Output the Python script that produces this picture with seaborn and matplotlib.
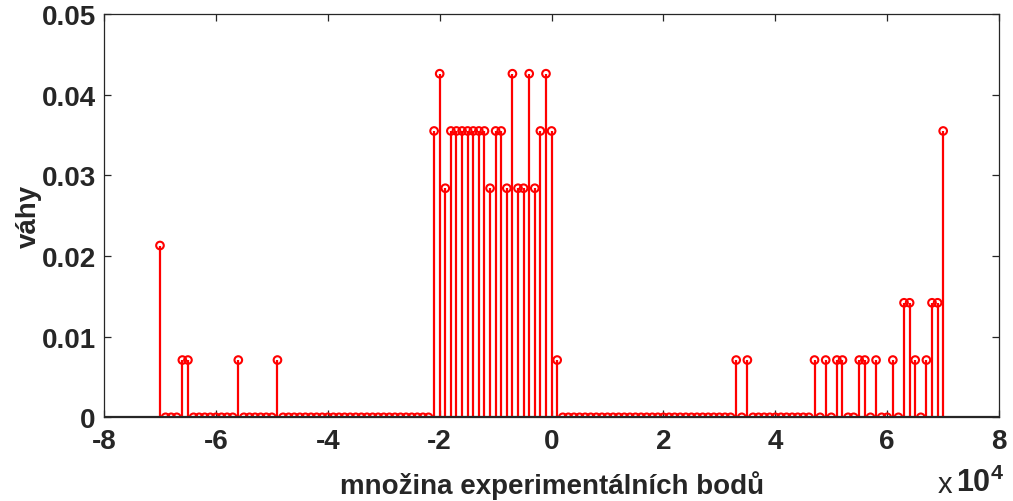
import matplotlib
matplotlib.use("Agg")
import matplotlib.pyplot as plt
import seaborn as sns
import numpy as np
from matplotlib.ticker import FixedLocator, FuncFormatter

# experimental points (x positions, regular grid of the experiment)
x_points = list(range(-70000, 70001, 1000))

weights = [
    0.0213, 0, 0, 0, 0.0071, 0.0071, 0, 0, 0, 0,            # -70 .. -61 (x1000)
    0, 0, 0, 0, 0.0071, 0, 0, 0, 0, 0,                      # -60 .. -51
    0, 0.0071, 0, 0, 0, 0, 0, 0, 0, 0,                      # -50 .. -41
    0, 0, 0, 0, 0, 0, 0, 0, 0, 0,                           # -40 .. -31
    0, 0, 0, 0, 0, 0, 0, 0, 0, 0.0355,                      # -30 .. -21
    0.0426, 0.0284, 0.0355, 0.0355, 0.0355, 0.0355, 0.0355, 0.0355, 0.0355, 0.0284,  # -20 .. -11
    0.0355, 0.0355, 0.0284, 0.0426, 0.0284, 0.0284, 0.0426, 0.0284, 0.0355, 0.0426,  # -10 .. -1
    0.0355, 0.0071, 0, 0, 0, 0, 0, 0, 0, 0,                 # 0 .. 9
    0, 0, 0, 0, 0, 0, 0, 0, 0, 0,                           # 10 .. 19
    0, 0, 0, 0, 0, 0, 0, 0, 0, 0,                           # 20 .. 29
    0, 0, 0, 0.0071, 0, 0.0071, 0, 0, 0, 0,                 # 30 .. 39
    0, 0, 0, 0, 0, 0, 0, 0.0071, 0, 0.0071,                 # 40 .. 49
    0, 0.0071, 0.0071, 0, 0, 0.0071, 0.0071, 0, 0.0071, 0,  # 50 .. 59
    0, 0.0071, 0, 0.0142, 0.0142, 0.0071, 0, 0.0071, 0.0142, 0.0142,  # 60 .. 69
    0.0355,                                                 # 70
]

x_ticks = [-80000, -60000, -40000, -20000, 0, 20000, 40000, 60000, 80000]
y_ticks = [0, 0.01, 0.02, 0.03, 0.04, 0.05]
y_tick_labels = ["0", "0.01", "0.02", "0.03", "0.04", "0.05"]
x_label = "množina experimentálních bodů"
y_label = "váhy"

sns.set_theme(style="white")
plt.rcParams["font.family"] = ["Liberation Sans", "DejaVu Sans"]
plt.rcParams["mathtext.fontset"] = "custom"
plt.rcParams["mathtext.rm"] = "Liberation Sans:bold"
plt.rcParams["mathtext.bf"] = "Liberation Sans:bold"

AX = "#262626"

fig = plt.figure(figsize=(10.13, 5.02), dpi=100)
ax = fig.add_axes([0.1027, 0.1667, 0.8836, 0.8034])

ax.vlines(x_points, 0, weights, color="red", lw=1.6, zorder=2)
sns.scatterplot(x=x_points, y=weights, ax=ax, marker="o", s=30,
                facecolor="none", edgecolor="red", linewidth=1.5,
                zorder=3, legend=False)
ax.axhline(0, color=AX, lw=1.6, zorder=4)

ax.set_xlim(-80000, 80000)
ax.set_ylim(0, 0.05)
ax.xaxis.set_major_locator(FixedLocator(x_ticks))
ax.xaxis.set_major_formatter(FuncFormatter(lambda v, p: f"{v/1e4:.0f}"))
ax.set_yticks(y_ticks)
ax.set_yticklabels(y_tick_labels)

for s in ax.spines.values():
    s.set_visible(True)
    s.set_color(AX)
    s.set_linewidth(0.9)

ax.tick_params(direction="in", top=True, right=True, bottom=True, left=True,
               length=5, width=0.9, color=AX, labelcolor=AX, labelsize=20)
ax.tick_params(axis="x", pad=8)
ax.tick_params(axis="y", pad=6)
for lab in ax.get_xticklabels() + ax.get_yticklabels():
    lab.set_fontweight("bold")

ax.set_xlabel(x_label, fontsize=20, fontweight="bold", color=AX, labelpad=11)
ax.set_ylabel(y_label, fontsize=20, fontweight="bold", color=AX, labelpad=0)

fig.text(0.991, 0.006, r"10$^{4}$", ha="right", va="bottom",
         fontsize=22, color=AX, fontweight="bold")
fig.text(0.940, 0.006, "x", ha="right", va="bottom",
         fontsize=21, color=AX, fontweight="normal")

fig.savefig("out.png", dpi=100)
